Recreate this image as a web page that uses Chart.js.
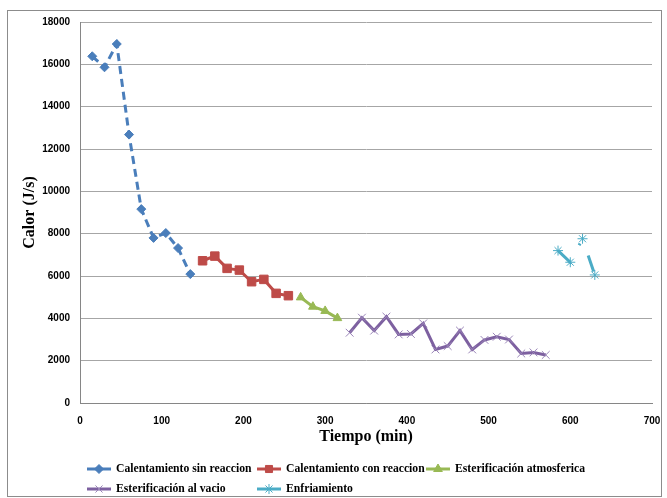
<!DOCTYPE html>
<html>
<head>
<meta charset="utf-8">
<script src="https://cdn.jsdelivr.net/npm/chart.js@4.4.0/dist/chart.umd.min.js"></script>
<style>
  html, body { margin: 0; padding: 0; background: #fff; }
  #wrap { width: 667px; height: 498px; }
</style>
</head>
<body>
<div id="wrap"><canvas id="chart" width="667" height="498"></canvas></div>
<script>
// tiempo (min) y calor (J/s) por etapa
const sinReaccionX = [15, 30, 45, 60, 75, 90, 105, 120, 135]
const sinReaccionY = [16380, 15860, 16960, 12680, 9160, 7800, 8030, 7320, 6090]

const conReaccionX = [150, 165, 180, 195, 210, 225, 240, 255]
const conReaccionY = [6720, 6940, 6360, 6280, 5730, 5840, 5180, 5070]

const atmosfericaX = [270, 285, 300, 315]
const atmosfericaY = [4990, 4550, 4350, 4010]

const vacioX = [330, 345, 360, 375, 390, 405, 420, 435, 450, 465, 480, 495, 510, 525, 540, 555, 570]
const vacioY = [3320, 4030, 3420, 4080, 3240, 3260, 3760, 2530, 2690, 3420, 2530, 2980, 3130, 3000, 2340, 2390, 2270]

const enfriamientoX = [585, 600, 615, 630]
const enfriamientoY = [7200, 6650, 7760, 6050]

const seriesLabels = [
  'Calentamiento sin reaccion',
  'Calentamiento con reaccion',
  'Esterificación atmosferica',
  'Esterificación al vacio',
  'Enfriamiento'
]

const xTicksMax = 700
const yTicksMax = 18000

const toPoints = (xs, ys) => xs.map((x, i) => ({ x: x, y: ys[i] }))

// legend slots, Excel style two rows
const legendSpots = [[87, 469], [257, 469], [426, 469], [87, 489], [257, 489]]

const drawMarker = (ctx, style, radius, x, y) => {
  const opts = { pointStyle: style, radius: radius, borderWidth: 1, rotation: 0 }
  if (style === 'star') {
    // star = cross + rotated cross
    Chart.helpers.drawPoint(ctx, { ...opts, pointStyle: 'cross' }, x, y)
    Chart.helpers.drawPoint(ctx, { ...opts, pointStyle: 'crossRot' }, x, y)
  } else {
    Chart.helpers.drawPoint(ctx, opts, x, y)
  }
}

const frameAndLegend = {
  id: 'frameAndLegend',
  beforeDraw(chart) {
    const ctx = chart.ctx
    ctx.save()
    ctx.fillStyle = '#fff'
    ctx.fillRect(0, 0, chart.width, chart.height)
    ctx.strokeStyle = '#8c8c8c'
    ctx.lineWidth = 1
    ctx.strokeRect(7.5, 10.5, 654, 486)
    ctx.restore()
  },
  afterDraw(chart) {
    const ctx = chart.ctx
    chart.data.datasets.forEach((ds, i) => {
      const [x, y] = legendSpots[i]
      ctx.save()
      ctx.strokeStyle = ds.borderColor
      ctx.lineWidth = 3
      ctx.beginPath()
      ctx.moveTo(x, y)
      ctx.lineTo(x + 24, y)
      ctx.stroke()
      ctx.fillStyle = ds.pointBackgroundColor
      ctx.strokeStyle = ds.pointBorderColor
      ctx.lineWidth = 1
      drawMarker(ctx, ds.pointStyle, Math.min(ds.pointRadius, 5), x + 12, y)
      ctx.fillStyle = '#000'
      ctx.font = 'bold 11.7px "Liberation Serif", "Times New Roman", serif'
      ctx.textBaseline = 'middle'
      ctx.textAlign = 'left'
      ctx.fillText(ds.label, x + 29, y)
      ctx.restore()
    })
  }
}

const ctx = document.getElementById('chart').getContext('2d')

new Chart(ctx, {
  type: 'line',
  data: {
    datasets: [{
      label: seriesLabels[0],
      data: toPoints(sinReaccionX, sinReaccionY),
      borderColor: '#4A7EBB',
      borderWidth: 3,
      borderDash: [8, 5],
      pointStyle: 'rectRot',
      pointRadius: 4.5,
      pointBackgroundColor: '#4A7EBB',
      pointBorderColor: '#4A7EBB',
      pointBorderWidth: 1
    }, {
      label: seriesLabels[1],
      data: toPoints(conReaccionX, conReaccionY),
      borderColor: '#BE4B48',
      borderWidth: 3,
      pointStyle: 'rect',
      pointRadius: 6,
      pointBackgroundColor: '#BE4B48',
      pointBorderColor: '#BE4B48',
      pointBorderWidth: 1
    }, {
      label: seriesLabels[2],
      data: toPoints(atmosfericaX, atmosfericaY),
      borderColor: '#98B954',
      borderWidth: 3,
      pointStyle: 'triangle',
      pointRadius: 5,
      pointBackgroundColor: '#98B954',
      pointBorderColor: '#98B954',
      pointBorderWidth: 1
    }, {
      label: seriesLabels[3],
      data: toPoints(vacioX, vacioY),
      borderColor: '#7D60A0',
      borderWidth: 3,
      pointStyle: 'crossRot',
      pointRadius: 5.5,
      pointBackgroundColor: '#9A85B8',
      pointBorderColor: '#9A85B8',
      pointBorderWidth: 1
    }, {
      label: seriesLabels[4],
      data: toPoints(enfriamientoX, enfriamientoY),
      borderColor: '#4BACC6',
      borderWidth: 3,
      borderDash: [17, 19, 2, 23],
      pointStyle: 'star',
      pointRadius: 5,
      pointBackgroundColor: '#4BACC6',
      pointBorderColor: '#4BACC6',
      pointBorderWidth: 1
    }]
  },
  options: {
    responsive: false,
    animation: false,
    events: [],
    layout: {
      padding: { left: 0, top: 22, right: 15, bottom: 45 }
    },
    elements: {
      line: { tension: 0, borderCapStyle: 'butt' }
    },
    scales: {
      x: {
        type: 'linear',
        min: 0,
        max: xTicksMax,
        afterFit: (scale) => { scale.height = 50 },
        grid: { display: false },
        border: { color: '#868686' },
        ticks: {
          stepSize: 100,
          padding: 4,
          color: '#000',
          font: { family: '"Liberation Sans", Arial, sans-serif', size: 10, weight: 'bold' }
        },
        title: {
          display: true,
          text: 'Tiempo (min)',
          color: '#000',
          font: { family: '"Liberation Serif", "Times New Roman", serif', size: 16, weight: 'bold' },
          padding: { top: 0, bottom: 7 }
        }
      },
      y: {
        min: 0,
        max: yTicksMax,
        afterFit: (scale) => { scale.width = 80 },
        grid: { color: '#A6A6A6', drawTicks: false },
        border: { color: '#868686' },
        ticks: {
          stepSize: 2000,
          padding: 10,
          color: '#000',
          font: { family: '"Liberation Sans", Arial, sans-serif', size: 10, weight: 'bold' },
          callback: (v) => String(v)
        },
        title: {
          display: true,
          text: 'Calor (J/s)',
          color: '#000',
          font: { family: '"Liberation Serif", "Times New Roman", serif', size: 16, weight: 'bold' },
          padding: { top: 20, bottom: 0 }
        }
      }
    },
    plugins: {
      legend: { display: false },
      tooltip: { enabled: false }
    }
  },
  plugins: [frameAndLegend]
})
</script>
</body>
</html>
